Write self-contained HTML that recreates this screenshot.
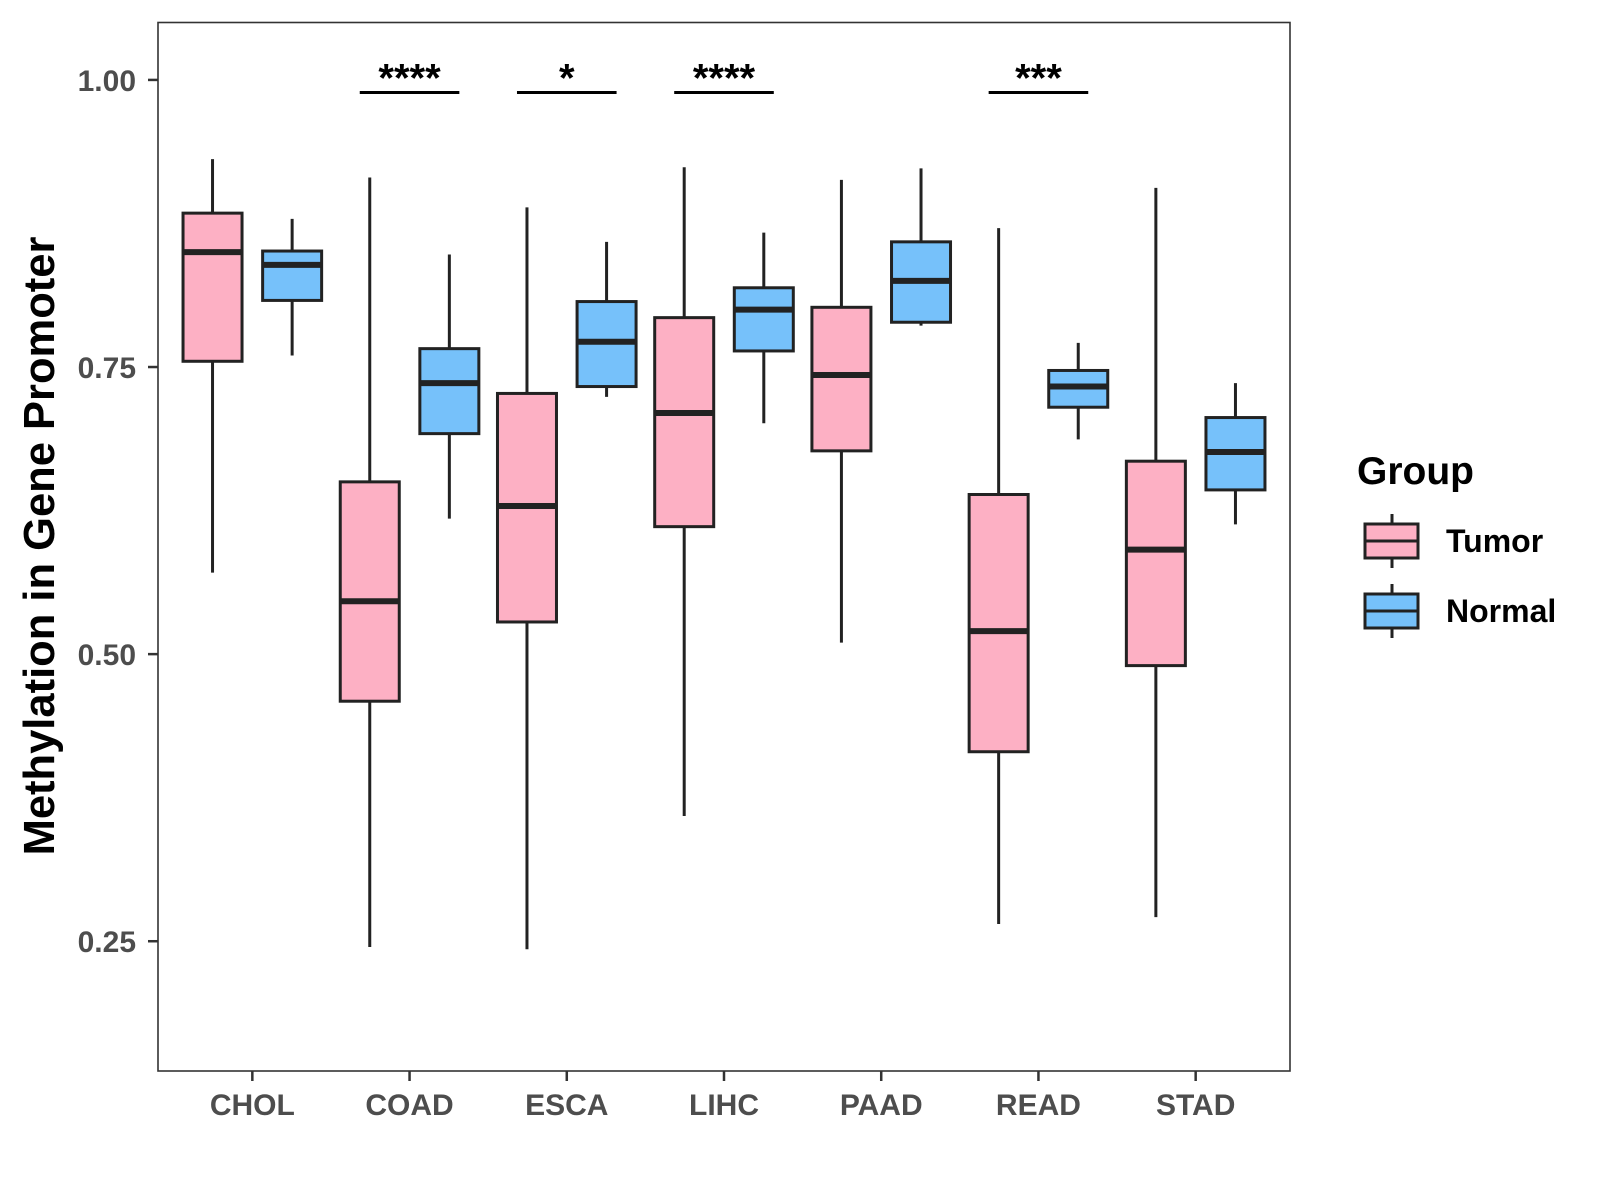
<!DOCTYPE html>
<html><head><meta charset="utf-8"><style>
body{margin:0;background:#fff;}
svg{display:block;font-family:"Liberation Sans",Arial,sans-serif;}
</style></head><body>
<svg id="chart" width="1600" height="1200" viewBox="0 0 1600 1200">
<rect x="0" y="0" width="1600" height="1200" fill="#fff"/>
<g id="plot"></g>
</svg>
<script>
const categories=["CHOL","COAD","ESCA","LIHC","PAAD","READ","STAD"];
// [whiskerLow, q1, median, q3, whiskerHigh]
const tumorStats=[[0.571,0.755,0.850,0.884,0.931],[0.245,0.459,0.546,0.650,0.915],[0.243,0.528,0.629,0.727,0.889],[0.359,0.611,0.710,0.793,0.924],[0.510,0.677,0.743,0.802,0.913],[0.265,0.415,0.520,0.639,0.871],[0.271,0.490,0.591,0.668,0.906]];
const normalStats=[[0.760,0.808,0.839,0.851,0.879],[0.618,0.692,0.736,0.766,0.848],[0.724,0.733,0.772,0.807,0.859],[0.701,0.764,0.800,0.819,0.867],[0.786,0.789,0.825,0.859,0.923],[0.687,0.715,0.733,0.747,0.771],[0.613,0.643,0.676,0.706,0.736]];
const sigLabels=["","****","*","****","","***",""];
const sigLevel=0.989;
const yTicks=[0.25,0.50,0.75,1.00];
const yTickLabels=["0.25","0.50","0.75","1.00"];

const NS="http://www.w3.org/2000/svg";
const g=document.getElementById('plot');
const L=158,R=1290,T=22.5,B=1071;
const yMin=0.137,yMax=1.05;
function y(v){return B-(v-yMin)/(yMax-yMin)*(B-T);}
const pad=0.6;
const step=(R-L)/(categories.length-1+2*pad);
function x(i){return L+step*(i+pad);}
function el(tag,attrs,parent){const e=document.createElementNS(NS,tag);for(const k in attrs)e.setAttribute(k,attrs[k]);(parent||g).appendChild(e);return e;}

let frame=el('rect',{x:L,y:T,width:R-L,height:B-T,fill:'none',stroke:'#333',"stroke-width":1.6});



yTicks.forEach((v,i)=>{
  const t=el('line',{x1:L-10,x2:L,y1:y(v),y2:y(v),stroke:'#333',"stroke-width":2.5});
  
  
  const tx=el('text',{x:L-22,y:y(v)+11,"text-anchor":'end',"font-size":30,"font-weight":'bold',fill:'#4d4d4d'});
  tx.textContent=yTickLabels[i];
  
  
});
categories.forEach((c,i)=>{
  const t=el('line',{x1:x(i),x2:x(i),y1:B,y2:B+10,stroke:'#333',"stroke-width":2.5});
  
  
  const tx=el('text',{x:x(i),y:B+44,"text-anchor":'middle',"font-size":30,"font-weight":'bold',fill:'#4d4d4d'});
  tx.textContent=c;
  
  
});
const off=39.8,bw=59;
function box(cx,s,fill,name){
  const grp=el('g',{});
  
  
  el('line',{x1:cx,x2:cx,y1:y(s[0]),y2:y(s[4]),stroke:'#222',"stroke-width":3},grp);
  el('rect',{x:cx-bw/2,y:y(s[3]),width:bw,height:y(s[1])-y(s[3]),fill:fill,stroke:'#222',"stroke-width":3},grp);
  el('line',{x1:cx-bw/2,x2:cx+bw/2,y1:y(s[2]),y2:y(s[2]),stroke:'#222',"stroke-width":6},grp);
}
categories.forEach((c,i)=>{
  box(x(i)-off,tumorStats[i],'#FDB0C4','tumor-box-'+c.toLowerCase());
  box(x(i)+off,normalStats[i],'#76C1FA','normal-box-'+c.toLowerCase());
  if(sigLabels[i]){
    const ln=el('line',{x1:x(i)-off-10,x2:x(i)+off+10,y1:y(sigLevel),y2:y(sigLevel),stroke:'#000',"stroke-width":3});
    
    
    const tx=el('text',{x:x(i),y:y(sigLevel)-1,"text-anchor":'middle',"font-size":40,"font-weight":'bold',fill:'#000'});
    tx.textContent=sigLabels[i];
    
    
  }
});
const yt=el('text',{x:0,y:0,transform:'translate(54,546) rotate(-90)',"text-anchor":'middle',"font-size":43.5,"font-weight":'bold',fill:'#000'});
yt.textContent='Methylation in Gene Promoter';


const lg=el('g',{});


const lt=el('text',{x:1357,y:484,"font-size":39,"font-weight":'bold',fill:'#000'},lg);
lt.textContent='Group';


[['Tumor','#FDB0C4',541],['Normal','#76C1FA',611]].forEach(d=>{
  const e=el('g',{},lg);
  
  
  el('line',{x1:1392,x2:1392,y1:d[2]-27,y2:d[2]+27,stroke:'#222',"stroke-width":3},e);
  el('rect',{x:1365,y:d[2]-17,width:53,height:34,fill:d[1],stroke:'#222',"stroke-width":3},e);
  el('line',{x1:1365,x2:1418,y1:d[2],y2:d[2],stroke:'#222',"stroke-width":3},e);
  const t=el('text',{x:1446,y:d[2]+11,"font-size":32,"font-weight":'bold',fill:'#000'},e);
  t.textContent=d[0];
});
</script>
</body></html>
